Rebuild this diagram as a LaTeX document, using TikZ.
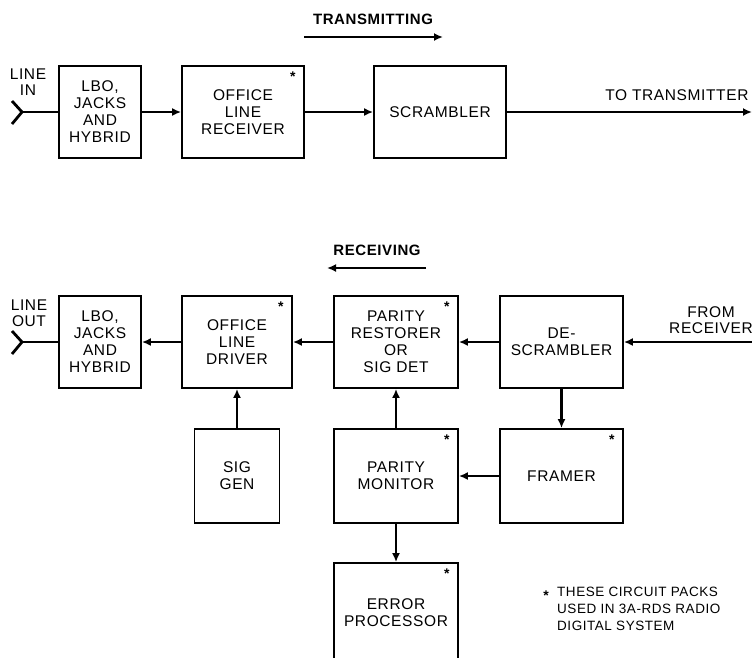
\documentclass[tikz,border=0pt]{standalone}
\usepackage{fontspec}
\setmainfont[LetterSpace=4]{Liberation Sans}
\usetikzlibrary{positioning, arrows.meta}

\begin{document}
\begin{tikzpicture}[x=1pt,y=-1pt,
  unit/.style={draw,rectangle,line width=1.8pt,align=center,inner sep=0pt,
    font=\fontsize{15.5}{17}\selectfont},
  flow/.style={line width=2.8pt,-{Latex[length=9pt,width=8pt]}},
  fork/.style={line width=2.8pt},
  star/.style={font=\fontsize{14}{14}\selectfont\bfseries,inner sep=0pt},
  title/.style={font=\fontsize{15}{16}\selectfont\bfseries},
  tag/.style={align=center,font=\fontsize{15.5}{16}\selectfont}]
\useasboundingbox (0,0) rectangle (752,657);
\clip (0,0) rectangle (752,657);

% transmitting side
\node[title] (ttx) at (373,19) {TRANSMITTING};
\coordinate (txa) at (304,37);
\coordinate (txb) at (443,37);
\draw[flow] (txa) -- (txb);

\node[tag] (linein) at (28,82) {LINE\\IN};
\coordinate (lin) at (22,112);
\node[unit,minimum width=82pt,minimum height=92pt] (lbo1) at (100,112) {LBO,\\JACKS\\AND\\HYBRID};
\node[unit,minimum width=122pt,minimum height=92pt] (olr) at (243,112) {OFFICE\\LINE\\RECEIVER};
\node[unit,minimum width=132pt,minimum height=92pt] (scr) at (440,112) {SCRAMBLER};
\coordinate (tout) at (752,112);
\node[tag,anchor=south east] (totx) at (752,104) {TO TRANSMITTER};
\node[star] at ([xshift=-12pt,yshift=-12pt]olr.north east) {*};

\draw[fork] (lin) -- ++(-10,-11) (lin) -- ++(-10,12);
\draw[fork] (lin) -- (lbo1.west);
\draw[flow] (lbo1) -- (olr);
\draw[flow] (olr) -- (scr);
\draw[flow] (scr) -- (tout);

% receiving side
\node[title] (trx) at (377,250) {RECEIVING};
\coordinate (rxa) at (426,268);
\coordinate (rxb) at (327,268);
\draw[flow] (rxa) -- (rxb);

\node[tag] (lineout) at (29,313) {LINE\\OUT};
\coordinate (lout) at (22,342);
\node[unit,minimum width=82pt,minimum height=92pt] (lbo2) at (100,342) {LBO,\\JACKS\\AND\\HYBRID};
\node[unit,minimum width=110pt,minimum height=92pt] (old) at (237,342) {OFFICE\\LINE\\DRIVER};
\node[unit,minimum width=124pt,minimum height=92pt] (prs) at (396,342) {PARITY\\RESTORER\\OR\\SIG DET};
\node[unit,minimum width=123pt,minimum height=92pt] (dsc) at (561.5,342) {DE-\\SCRAMBLER};
\coordinate (rin) at (752,342);
\node[tag] (fromrx) at (711,320) {FROM\\RECEIVER};

\node[unit,minimum width=85pt,minimum height=94pt] (sig) at (237,476) {SIG\\GEN};
\node[unit,minimum width=124pt,minimum height=94pt] (pmon) at (396,476) {PARITY\\MONITOR};
\node[unit,minimum width=123pt,minimum height=94pt] (frm) at (561.5,476) {FRAMER};
\node[unit,minimum width=124pt,minimum height=100pt] (err) at (396,613) {ERROR\\PROCESSOR};

\foreach \n in {old,prs,pmon,frm,err}
  \node[star] at ([xshift=-12pt,yshift=-12pt]\n.north east) {*};

\draw[fork] (lout) -- ++(-10,-11) (lout) -- ++(-10,12);
\draw[fork] (lout) -- (lbo2.west);
\draw[flow] (rin) -- (dsc);
\draw[flow] (dsc) -- (prs);
\draw[flow] (prs) -- (old);
\draw[flow] (old) -- (lbo2);
\draw[flow] (sig) -- (old);
\draw[flow] (pmon) -- (prs);
\draw[flow] (dsc) -- (frm);
\draw[flow] (frm) -- (pmon);
\draw[flow] (pmon) -- (err);

% footnote
\node[star] (fstar) at (546,596) {*};
\node[anchor=north west,align=left,inner sep=0pt,font=\fontsize{13.5}{17}\selectfont] (note) at (557,587)
  {THESE CIRCUIT PACKS\\USED IN 3A-RDS RADIO\\DIGITAL SYSTEM};
\end{tikzpicture}
\end{document}
